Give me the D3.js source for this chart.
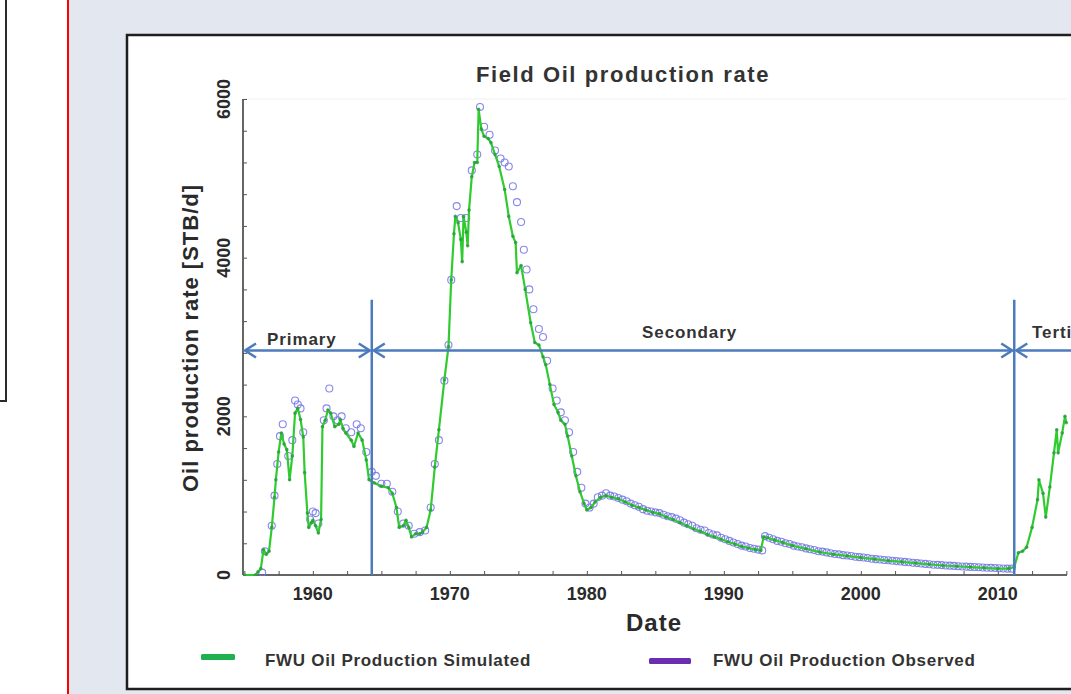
<!DOCTYPE html>
<html>
<head>
<meta charset="utf-8">
<script src="https://cdn.jsdelivr.net/npm/d3@7"></script>
<style>
  html, body { margin: 0; padding: 0; background: #ffffff; }
  svg { display: block; }
  text { font-family: "Liberation Sans", Arial, sans-serif; }
</style>
</head>
<body>
<svg id="chart" width="1071" height="694"></svg>
<script>
// ---------------- DATA ----------------
const chartTitle = "Field Oil production rate";
const yLabel = "Oil production rate [STB/d]";
const xLabel = "Date";
const xTickLabels = [1960, 1970, 1980, 1990, 2000, 2010];
const yTickLabels = [0, 2000, 4000, 6000];
const legendLabels = ["FWU Oil Production Simulated", "FWU Oil Production Observed"];
const phaseLabels = ["Primary", "Secondary", "Tertiary"];
const phaseLabelYears = [1959.2, 1987.5, 2012.5];
const phaseBoundaries = [1964.3, 2011.2];   // years of vertical separators
const phaseArrowLevel = 2830;               // STB/d level of the phase arrows
const separatorTop = 3470;                  // STB/d top of separators

// Simulated field oil rate [year, STB/d]
const simulated = [
  [1955.0,0],[1955.8,0],[1956.0,40],[1956.2,80],[1956.4,320],[1956.6,260],[1956.8,300],
  [1957.0,600],[1957.2,980],[1957.3,1200],[1957.5,1550],[1957.7,1790],[1957.9,1650],
  [1958.1,1580],[1958.3,1200],[1958.5,1500],[1958.7,2040],[1958.9,2100],[1959.1,1960],
  [1959.3,1740],[1959.4,1290],[1959.6,780],[1959.7,600],[1959.9,660],[1960.0,690],
  [1960.2,620],[1960.4,530],[1960.6,700],[1960.7,1870],[1960.9,1950],[1961.1,2080],
  [1961.3,2040],[1961.6,1870],[1961.9,1900],[1962.0,1960],[1962.2,1850],[1962.4,1790],
  [1962.8,1700],[1963.0,1620],[1963.3,1790],[1963.6,1700],[1963.9,1450],[1964.1,1200],
  [1964.5,1160],[1965.0,1120],[1965.5,1100],[1965.8,1030],[1966.1,850],[1966.3,600],
  [1966.6,620],[1966.8,690],[1967.0,600],[1967.2,480],[1967.5,520],[1967.8,520],
  [1968.0,540],[1968.3,600],[1968.6,820],[1968.9,1360],[1969.2,1830],[1969.6,2460],
  [1969.9,2880],[1970.1,3720],[1970.3,4300],[1970.4,4520],[1970.6,4440],[1970.8,4230],
  [1970.9,3950],[1971.0,4520],[1971.2,4320],[1971.3,4150],[1971.4,4600],[1971.6,5020],
  [1971.8,5200],[1972.0,5200],[1972.1,5870],[1972.3,5620],[1972.5,5530],[1972.8,5500],
  [1973.0,5450],[1973.3,5300],[1973.6,5150],[1974.0,4860],[1974.3,4520],[1974.6,4270],
  [1974.8,4190],[1974.9,3810],[1975.2,3900],[1975.5,3600],[1975.9,3180],[1976.2,2930],
  [1976.5,2900],[1976.8,2750],[1977.0,2650],[1977.3,2400],[1977.6,2150],[1977.9,2050],
  [1978.1,1950],[1978.4,1900],[1978.6,1750],[1978.9,1500],[1979.2,1250],[1979.5,1050],
  [1979.8,900],[1980.0,820],[1980.3,850],[1980.6,920],[1981.0,980],[1981.4,1000],
  [1981.8,980],[1982.3,960],[1982.8,920],[1983.3,880],[1983.8,850],[1984.3,820],
  [1984.8,790],[1985.3,770],[1985.8,730],[1986.3,700],[1986.8,660],[1987.3,620],
  [1987.8,580],[1988.3,550],[1988.8,510],[1989.3,480],[1989.8,450],[1990.3,420],
  [1990.8,390],[1991.3,360],[1991.8,340],[1992.3,320],[1992.7,310],[1992.9,480],
  [1993.2,470],[1993.7,440],[1994.3,410],[1995.0,370],[1996.0,330],[1997.0,290],
  [1998.0,260],[1999.0,240],[2000.0,220],[2001.0,200],[2002.0,180],[2003.0,165],
  [2004.0,150],[2005.0,135],[2006.0,120],[2007.0,110],[2008.0,100],[2009.0,90],
  [2010.0,80],[2010.8,80],[2011.2,100],[2011.5,280],[2011.8,300],[2012.1,350],
  [2012.5,600],[2012.9,950],[2013.0,1200],[2013.3,1030],[2013.5,730],[2013.8,1110],
  [2014.1,1540],[2014.3,1830],[2014.4,1540],[2014.7,1790],[2014.9,2000],[2015.0,1920]
];

// Observed field oil rate [year, STB/d]
const observed = [
  [1956.3,30],[1956.5,300],[1957.0,620],[1957.2,1000],[1957.4,1400],[1957.6,1750],
  [1957.8,1900],[1958.2,1500],[1958.5,1700],[1958.7,2200],[1958.9,2150],[1959.1,2100],
  [1959.3,1800],[1959.8,700],[1960.0,800],[1960.2,780],[1960.4,650],[1960.8,1950],
  [1961.0,2100],[1961.2,2350],[1961.5,2000],[1961.8,1950],[1962.1,2000],[1962.4,1850],
  [1962.8,1800],[1963.2,1900],[1963.5,1850],[1963.9,1550],[1964.3,1300],[1964.6,1250],
  [1965.0,1150],[1965.4,1150],[1965.8,1050],[1966.2,800],[1966.6,650],[1967.0,620],
  [1967.4,520],[1967.8,540],[1968.2,560],[1968.6,850],[1968.9,1400],[1969.2,1700],
  [1969.6,2450],[1969.9,2900],[1970.1,3720],[1970.5,4650],[1970.8,4500],[1971.2,4500],
  [1971.6,5100],[1972.0,5300],[1972.2,5900],[1972.5,5650],[1972.9,5550],[1973.3,5350],
  [1973.7,5250],[1974.0,5200],[1974.3,5150],[1974.6,4900],[1974.9,4700],[1975.2,4450],
  [1975.4,4100],[1975.6,3850],[1975.8,3600],[1976.1,3350],[1976.5,3100],[1976.8,3000],
  [1977.1,2700],[1977.5,2350],[1977.8,2200],[1978.1,2050],[1978.4,1950],[1978.7,1800],
  [1979.0,1550],[1979.3,1300],[1979.6,1100],[1979.9,900],[1980.2,850],[1980.5,900],
  [1980.8,980],[1981.1,1000],[1981.4,1030],[1981.7,1000],[1982.0,990],[1982.3,970],
  [1982.6,950],[1982.9,930],[1983.2,900],[1983.5,880],[1983.8,860],[1984.1,830],
  [1984.4,810],[1984.7,800],[1985.0,790],[1985.3,780],[1985.6,760],[1985.9,740],
  [1986.2,730],[1986.5,710],[1986.8,690],[1987.1,660],[1987.4,640],[1987.7,620],
  [1988.0,590],[1988.3,570],[1988.6,560],[1988.9,530],[1989.2,510],[1989.5,500],
  [1989.8,470],[1990.1,450],[1990.4,430],[1990.7,410],[1991.0,390],[1991.3,370],
  [1991.6,360],[1991.9,340],[1992.2,330],[1992.5,320],[1992.8,310],[1993.0,490],
  [1993.3,470],[1993.6,450],[1993.9,430],[1994.2,420],[1994.5,400],[1994.8,390],
  [1995.1,370],[1995.4,360],[1995.7,350],[1996.0,335],[1996.3,325],[1996.6,315],
  [1996.9,300],[1997.2,295],[1997.5,285],[1997.8,275],[1998.1,265],[1998.4,260],
  [1998.7,250],[1999.0,245],[1999.3,240],[1999.6,230],[1999.9,225],[2000.2,220],
  [2000.5,215],[2000.8,205],[2001.1,200],[2001.4,195],[2001.7,190],[2002.0,185],
  [2002.3,180],[2002.6,175],[2002.9,170],[2003.2,165],[2003.5,160],[2003.8,155],
  [2004.1,150],[2004.4,145],[2004.7,140],[2005.0,135],[2005.3,130],[2005.6,128],
  [2005.9,125],[2006.2,120],[2006.5,118],[2006.8,115],[2007.1,110],[2007.4,108],
  [2007.7,105],[2008.0,102],[2008.3,100],[2008.6,97],[2008.9,95],[2009.2,92],
  [2009.5,90],[2009.8,88],[2010.1,85],[2010.4,82],[2010.7,80],[2011.0,80]
];

// ---------------- DRAWING ----------------
const svg = d3.select("#chart");
const W = 1071, H = 694;

// page decorations
svg.append("rect").attr("x", 0).attr("y", 0).attr("width", W).attr("height", H).attr("fill", "#ffffff");
svg.append("rect").attr("x", 68).attr("y", 0).attr("width", W - 68).attr("height", H).attr("fill", "#e3e8f0");
svg.append("line").attr("x1", 68).attr("x2", 68).attr("y1", 0).attr("y2", H)
  .attr("stroke", "#ff0000").attr("stroke-width", 2);
svg.append("path").attr("d", "M6,0 V401 H0").attr("fill", "none")
  .attr("stroke", "#2a2a2a").attr("stroke-width", 2);

// chart frame
svg.append("rect").attr("x", 127).attr("y", 35).attr("width", 1000).attr("height", 654)
  .attr("fill", "#ffffff").attr("stroke", "#1e1e1e").attr("stroke-width", 2.5);

const x = d3.scaleLinear().domain([1954.9, 2015.05]).range([243, 1067]);
const y = d3.scaleLinear().domain([0, 6000]).range([575, 99]);

const g = svg.append("g");

// axes lines
g.append("line").attr("x1", x.range()[0]).attr("x2", x.range()[0])
  .attr("y1", y(6000)).attr("y2", y(0)).attr("stroke", "#333").attr("stroke-width", 1.5);
g.append("line").attr("x1", x.range()[0]).attr("x2", x.range()[1])
  .attr("y1", y(0)).attr("y2", y(0)).attr("stroke", "#333").attr("stroke-width", 1.5);
g.append("line").attr("x1", x.range()[0]).attr("x2", x.range()[1])
  .attr("y1", y(6000)).attr("y2", y(6000)).attr("stroke", "#f0f0f0").attr("stroke-width", 1);

// inward ticks via d3 axes
const xMinor = d3.range(1955, 2015.1, 2.5);
const xAxis = d3.axisTop(x).tickValues(xMinor).tickSize(4).tickFormat("");
g.append("g").attr("transform", `translate(0,${y(0)})`).call(xAxis)
  .call(s => s.select(".domain").remove())
  .call(s => s.selectAll("line").attr("stroke", "#555"));
const yMinor = d3.range(0, 6001, 400);
const yAxis = d3.axisRight(y).tickValues(yMinor).tickSize(4).tickFormat("");
g.append("g").attr("transform", `translate(${x.range()[0]},0)`).call(yAxis)
  .call(s => s.select(".domain").remove())
  .call(s => s.selectAll("line").attr("stroke", "#555"));

// tick labels
g.selectAll(".xlab").data(xTickLabels).enter().append("text")
  .attr("x", d => x(d)).attr("y", 600).attr("text-anchor", "middle")
  .attr("font-size", 18).attr("font-weight", "bold").attr("fill", "#2a2a2a").text(d => d);
g.selectAll(".ylab").data(yTickLabels).enter().append("text")
  .attr("transform", d => `translate(230,${y(d)}) rotate(-90)`)
  .attr("text-anchor", "middle").attr("font-size", 18).attr("font-weight", "bold")
  .attr("fill", "#2a2a2a").text(d => d);

// axis titles
svg.append("text").attr("transform", `translate(198,338) rotate(-90)`)
  .attr("text-anchor", "middle").attr("font-size", 22).attr("font-weight", "bold")
  .attr("letter-spacing", 1).attr("fill", "#2a2a2a").text(yLabel);
svg.append("text").attr("x", 654).attr("y", 631).attr("text-anchor", "middle")
  .attr("font-size", 24).attr("font-weight", "bold").attr("letter-spacing", 1)
  .attr("fill", "#2a2a2a").text(xLabel);
svg.append("text").attr("x", 623).attr("y", 82).attr("text-anchor", "middle")
  .attr("font-size", 22).attr("font-weight", "bold").attr("letter-spacing", 1.6)
  .attr("fill", "#333").text(chartTitle);

// clip for data
svg.append("clipPath").attr("id", "plotclip").append("rect")
  .attr("x", 243).attr("y", 90).attr("width", 826).attr("height", 486);

const plot = svg.append("g").attr("clip-path", "url(#plotclip)");

// observed circles
plot.selectAll(".obs").data(observed).enter().append("circle")
  .attr("cx", d => x(d[0])).attr("cy", d => y(d[1])).attr("r", 3.5)
  .attr("fill", "none").attr("stroke", "#7272e6").attr("stroke-width", 1.1).attr("opacity", 0.85);

// simulated line
const line = d3.line().x(d => x(d[0])).y(d => y(d[1]));
plot.append("path").datum(simulated).attr("d", line).attr("fill", "none")
  .attr("stroke", "#2fcb2f").attr("stroke-width", 2.2).attr("stroke-linejoin", "round");
plot.selectAll(".simdot").data(simulated).enter().append("circle")
  .attr("cx", d => x(d[0])).attr("cy", d => y(d[1])).attr("r", 1.8)
  .attr("fill", "#2a9a45").attr("opacity", 0.8);

// phase separators and arrows
const arrowColor = "#4b7bbd";
const ph = svg.append("g");
phaseBoundaries.forEach(b => {
  ph.append("line").attr("x1", x(b)).attr("x2", x(b)).attr("y1", y(separatorTop)).attr("y2", y(0))
    .attr("stroke", arrowColor).attr("stroke-width", 2.5);
});
const ay = y(phaseArrowLevel);
const segs = [[x.range()[0] + 2, x(phaseBoundaries[0]) - 2], [x(phaseBoundaries[0]) + 2, x(phaseBoundaries[1]) - 2], [x(phaseBoundaries[1]) + 2, 1075]];
segs.forEach((s, i) => {
  ph.append("line").attr("x1", s[0]).attr("x2", s[1]).attr("y1", ay).attr("y2", ay)
    .attr("stroke", arrowColor).attr("stroke-width", 2.5);
  ph.append("path").attr("d", `M${s[0] + 11},${ay - 7} L${s[0]},${ay} L${s[0] + 11},${ay + 7}`)
    .attr("fill", "none").attr("stroke", arrowColor).attr("stroke-width", 2.5);
  if (i < 2) {
    ph.append("path").attr("d", `M${s[1] - 11},${ay - 7} L${s[1]},${ay} L${s[1] - 11},${ay + 7}`)
      .attr("fill", "none").attr("stroke", arrowColor).attr("stroke-width", 2.5);
  }
});
const labelY = [345, 338, 338];
const labelAnchor = ["middle", "middle", "start"];
phaseLabels.forEach((t, i) => {
  ph.append("text").attr("x", x(phaseLabelYears[i])).attr("y", labelY[i])
    .attr("text-anchor", labelAnchor[i]).attr("font-size", 17).attr("font-weight", "bold")
    .attr("letter-spacing", 0.9).attr("fill", "#333").text(t);
});

// legend
const lg = svg.append("g");
lg.append("rect").attr("x", 201).attr("y", 654).attr("width", 34).attr("height", 6).attr("rx", 1.5).attr("fill", "#1fb04f");
lg.append("text").attr("x", 265).attr("y", 666).attr("font-size", 17).attr("font-weight", "bold")
  .attr("letter-spacing", 0.7).attr("fill", "#333").text(legendLabels[0]);
lg.append("rect").attr("x", 649).attr("y", 658).attr("width", 42).attr("height", 6).attr("rx", 1.5).attr("fill", "#6a2fb0");
lg.append("text").attr("x", 713).attr("y", 666).attr("font-size", 17).attr("font-weight", "bold")
  .attr("letter-spacing", 0.7).attr("fill", "#333").text(legendLabels[1]);
</script>
</body>
</html>
